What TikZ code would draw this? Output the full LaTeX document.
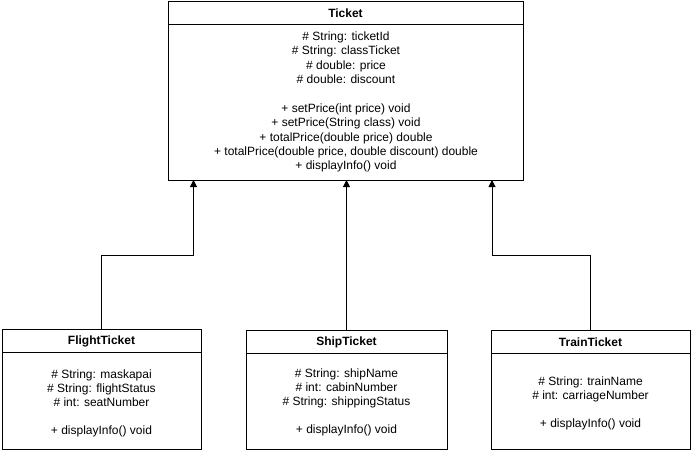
\documentclass[tikz,border=0pt]{standalone}
\usepackage{fontspec}
\setmainfont{Liberation Sans}
\usetikzlibrary{arrows.meta}
\begin{document}
\begin{tikzpicture}[x=1pt,y=-1pt,
  box/.style={draw, line width=1pt, inner sep=0pt, outer sep=0pt},
  hdr/.style={font=\fontsize{12}{14.4}\selectfont\bfseries, inner sep=0pt},
  body/.style={font=\fontsize{12}{14.4}\selectfont, align=center, inner sep=0pt},
  sbody/.style={font=\fontsize{12}{14}\selectfont, align=center, inner sep=0pt},
  sep/.style={draw, line width=1pt},
  arr/.style={draw, line width=1pt, -{Triangle[width=7pt,length=7pt]}}]
\useasboundingbox (0,0) rectangle (691,451);

% Ticket
\node[box, minimum width=355pt, minimum height=179pt, anchor=north west] (ticket) at (168,1) {};
\draw[sep] ([yshift=-23pt]ticket.north west) -- ([yshift=-23pt]ticket.north east);
\node[hdr] (ticketH) at (345.5,13) {Ticket};
\node[body] (ticketB) at (346,102) {\# String: ticketId\\\# String: classTicket\\\# double: price\\\# double: discount\\[14.4pt]+ setPrice(int price) void\\+ setPrice(String class) void\\+ totalPrice(double price) double\\+ totalPrice(double price, double discount) double\\+ displayInfo() void};

% FlightTicket
\node[box, minimum width=199pt, minimum height=120pt, anchor=north west] (flight) at (2,329) {};
\draw[sep] ([yshift=-23pt]flight.north west) -- ([yshift=-23pt]flight.north east);
\node[hdr] (flightH) at (101.5,341) {FlightTicket};
\node[sbody] (flightB) at (101.5,403) {\# String: maskapai\\\# String: flightStatus\\\# int: seatNumber\\[14pt]+ displayInfo() void};

% ShipTicket
\node[box, minimum width=201pt, minimum height=119.5pt, anchor=north west] (ship) at (246,330) {};
\draw[sep] ([yshift=-23pt]ship.north west) -- ([yshift=-23pt]ship.north east);
\node[hdr] (shipH) at (346.5,342) {ShipTicket};
\node[sbody] (shipB) at (346.5,402) {\# String: shipName\\\# int: cabinNumber\\\# String: shippingStatus\\[14pt]+ displayInfo() void};

% TrainTicket
\node[box, minimum width=199pt, minimum height=119pt, anchor=north west] (train) at (491,330) {};
\draw[sep] ([yshift=-23pt]train.north west) -- ([yshift=-23pt]train.north east);
\node[hdr] (trainH) at (590.5,342.5) {TrainTicket};
\node[sbody] (trainB) at (590.5,403) {\# String: trainName\\\# int: carriageNumber\\[14pt]+ displayInfo() void};

% connectors
\coordinate (lvl) at (0,255);
\coordinate (tA) at (193.5,180);
\coordinate (tC) at (492,180);
\draw[arr] (flight.north) -- (flight.north |- lvl) -| (tA);
\draw[arr] (ship.north) -- (ship.north |- ticket.south);
\draw[arr] (train.north) -- (train.north |- lvl) -| (tC);
\end{tikzpicture}
\end{document}
